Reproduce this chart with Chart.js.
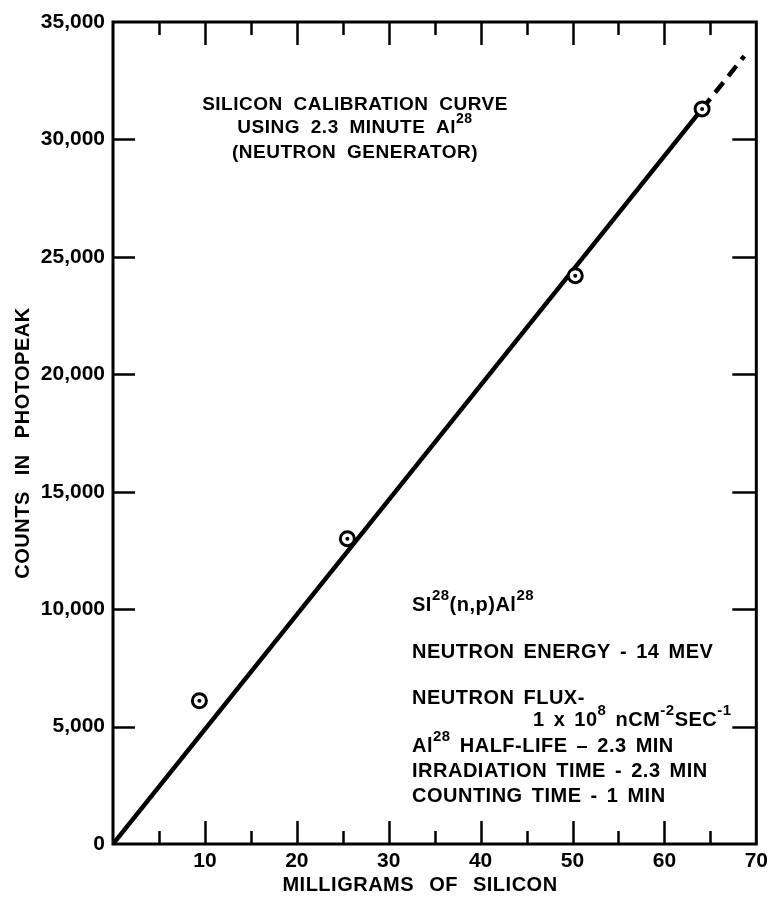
<!DOCTYPE html>
<html>
<head>
<meta charset="utf-8">
<script src="https://cdn.jsdelivr.net/npm/chart.js@4.4.1/dist/chart.umd.min.js"></script>
<style>
  html, body { margin: 0; padding: 0; background: #fff; }
  #wrap { width: 773px; height: 898px; }
</style>
</head>
<body>
<div id="wrap"><canvas id="c" width="773" height="898"></canvas></div>
<script>
// Measured samples: milligrams of silicon vs counts in the photopeak
const silicon_mg = [9.4, 25.5, 50.3, 64.1];
const photopeak_counts = [6100, 13000, 24200, 31300];

// Calibration line: solid through the data, dashed extrapolation beyond
const fit_mg = [0, 64.1];
const fit_counts = [0, 31300];
const extrap_mg = [64.1, 68.7];
const extrap_counts = [31300, 33550];

// Axis ranges and tick steps
const xRange = [0, 70];
const yRange = [0, 35000];
const xMajorStep = 10;
const xMinorStep = 5;
const yStep = 5000;

const toPoints = (xs, ys) => xs.map((v, i) => ({ x: v, y: ys[i] }));

const INK = '#000';
const FONT = '"Liberation Sans", Arial, sans-serif';

// Box around the plot plus inward-pointing ticks on all four sides
const framePlugin = {
  id: 'frame',
  afterDatasetsDraw(chart) {
    const { ctx, chartArea: a, scales: { x, y } } = chart;
    ctx.save();
    ctx.strokeStyle = INK;
    ctx.lineCap = 'butt';
    ctx.lineWidth = 3;
    ctx.strokeRect(a.left, a.top, a.right - a.left, a.bottom - a.top);
    ctx.lineWidth = 2.5;
    ctx.beginPath();
    for (let v = xRange[0] + xMinorStep; v < xRange[1]; v += xMinorStep) {
      const px = Math.round(x.getPixelForValue(v)) + 0.5;
      const len = v % xMajorStep === 0 ? 23 : 13;
      ctx.moveTo(px, a.bottom); ctx.lineTo(px, a.bottom - len);
      ctx.moveTo(px, a.top); ctx.lineTo(px, a.top + len);
    }
    for (let v = yRange[0] + yStep; v < yRange[1]; v += yStep) {
      const py = Math.round(y.getPixelForValue(v)) + 0.5;
      ctx.moveTo(a.left, py); ctx.lineTo(a.left + 22, py);
      ctx.moveTo(a.right, py); ctx.lineTo(a.right - 24, py);
    }
    ctx.stroke();
    ctx.restore();
  }
};

// Rich text: runs of normal and superscript text
const SUP_SCALE = 0.76;
function runWidth(ctx, segs, size) {
  let w = 0;
  for (const [t, kind] of segs) {
    ctx.font = `bold ${kind === 'sup' ? Math.round(size * SUP_SCALE) : size}px ${FONT}`;
    w += ctx.measureText(t).width;
  }
  return w;
}
function drawRich(ctx, x, baseline, segs, size, align, ws) {
  ctx.save();
  ctx.fillStyle = INK;
  ctx.textBaseline = 'alphabetic';
  ctx.textAlign = 'left';
  ctx.letterSpacing = '0.5px';
  ctx.wordSpacing = (ws === undefined ? 3 : ws) + 'px';
  let cx = align === 'center' ? x - runWidth(ctx, segs, size) / 2 : x;
  for (const [t, kind] of segs) {
    const sup = kind === 'sup';
    ctx.font = `bold ${sup ? Math.round(size * SUP_SCALE) : size}px ${FONT}`;
    ctx.fillText(t, cx, sup ? baseline - size * 0.55 : baseline);
    cx += ctx.measureText(t).width;
  }
  ctx.restore();
}

const titleLines = [
  { y: 110, segs: [['SILICON CALIBRATION CURVE']] },
  { y: 133, segs: [['USING 2.3 MINUTE Al'], ['28', 'sup']] },
  { y: 158, segs: [['(NEUTRON GENERATOR)']] }
];
const noteLines = [
  { x: 412, y: 611, segs: [['SI'], ['28', 'sup'], ['(n,p)Al'], ['28', 'sup']] },
  { x: 412, y: 658, segs: [['NEUTRON ENERGY - 14 MEV']] },
  { x: 412, y: 704, segs: [['NEUTRON FLUX-']] },
  { x: 533, y: 726, segs: [['1 x 10'], ['8', 'sup'], [' nCM'], ['-2', 'sup'], ['SEC'], ['-1', 'sup']] },
  { x: 412, y: 752, segs: [['Al'], ['28', 'sup'], [' HALF-LIFE \u2013 2.3 MIN']] },
  { x: 412, y: 777, segs: [['IRRADIATION TIME - 2.3 MIN']] },
  { x: 412, y: 802, segs: [['COUNTING TIME - 1 MIN']] }
];

const textPlugin = {
  id: 'labels',
  afterDraw(chart) {
    const ctx = chart.ctx;
    for (const l of titleLines) drawRich(ctx, 355, l.y, l.segs, 19, 'center', 5);
    for (const l of noteLines) drawRich(ctx, l.x, l.y, l.segs, 20, 'left', 3);
    // axis titles
    drawRich(ctx, 420, 891, [['MILLIGRAMS OF SILICON']], 20, 'center', 9);
    ctx.save();
    ctx.translate(29, 443);
    ctx.rotate(-Math.PI / 2);
    drawRich(ctx, 0, 0, [['COUNTS IN PHOTOPEAK']], 20, 'center', 10);
    ctx.restore();
  }
};

new Chart(document.getElementById('c'), {
  type: 'scatter',
  data: {
    datasets: [
      {
        label: 'calibration',
        data: toPoints(fit_mg, fit_counts),
        showLine: true,
        borderColor: INK,
        borderWidth: 4.5,
        pointRadius: 0,
        order: 3
      },
      {
        label: 'extrapolation',
        data: toPoints(extrap_mg, extrap_counts),
        showLine: true,
        borderColor: INK,
        borderWidth: 4.5,
        borderDash: [13, 8],
        pointRadius: 0,
        order: 3
      },
      {
        label: 'samples',
        data: toPoints(silicon_mg, photopeak_counts),
        pointStyle: 'circle',
        pointRadius: 7,
        pointBorderWidth: 3,
        pointBorderColor: INK,
        pointBackgroundColor: '#fff',
        order: 2
      },
      {
        label: 'sample centres',
        data: toPoints(silicon_mg, photopeak_counts),
        pointStyle: 'circle',
        pointRadius: 2,
        pointBorderWidth: 0,
        pointBackgroundColor: INK,
        order: 1
      }
    ]
  },
  options: {
    responsive: false,
    animation: false,
    devicePixelRatio: 1,
    layout: { padding: { top: 22, right: 14, left: 0, bottom: 0 } },
    plugins: { legend: { display: false }, tooltip: { enabled: false } },
    scales: {
      x: {
        type: 'linear',
        min: xRange[0], max: xRange[1],
        grid: { display: false, drawTicks: false },
        border: { display: false },
        ticks: {
          stepSize: xMajorStep,
          padding: 5,
          color: INK,
          font: { family: FONT, size: 21, weight: 'bold' },
          maxRotation: 0,
          callback: v => (v === 0 ? '' : String(v))
        },
        afterFit: s => { s.height = 54; }
      },
      y: {
        type: 'linear',
        min: yRange[0], max: yRange[1],
        grid: { display: false, drawTicks: false },
        border: { display: false },
        ticks: {
          stepSize: yStep,
          padding: 8,
          color: INK,
          font: { family: FONT, size: 21, weight: 'bold' },
          callback: v => v.toLocaleString('en-US')
        },
        afterFit: s => { s.width = 113; }
      }
    }
  },
  plugins: [framePlugin, textPlugin]
});
</script>
</body>
</html>
